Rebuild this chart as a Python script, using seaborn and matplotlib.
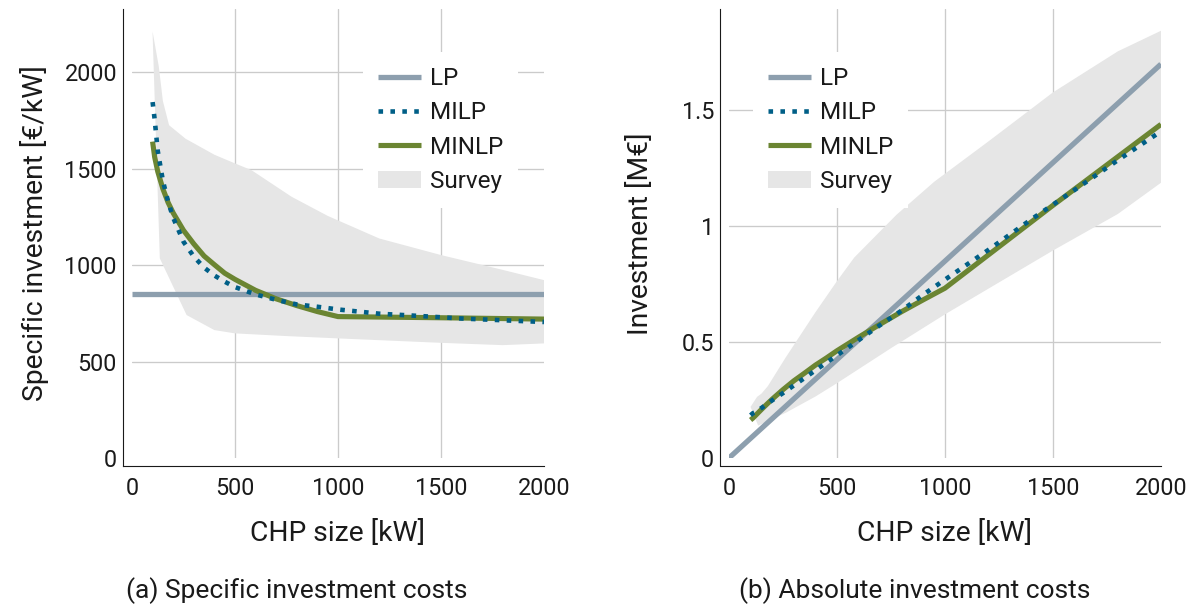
import matplotlib
matplotlib.use("Agg")
import matplotlib.pyplot as plt
import seaborn as sns
from matplotlib.lines import Line2D
from matplotlib.patches import Patch
from matplotlib.ticker import FuncFormatter

# ---- data: CHP size [kW] and specific investment [€/kW] ----
lp_size = [0, 2000]
lp_specific = [850, 850]

milp_size = [100, 110, 125, 150, 175, 200, 250, 300, 350, 400, 450, 500,
             600, 700, 800, 900, 1000, 1200, 1400, 1600, 1800, 2000]
milp_specific = [1845, 1755, 1592, 1437, 1330, 1245, 1121, 1044, 987, 946, 914, 886,
                 848, 820, 796, 784, 770, 748, 736, 723, 714, 705]

minlp_size = [100, 110, 125, 150, 175, 200, 250, 300, 350, 400, 450, 500,
              600, 700, 800, 900, 1000, 1500, 2000]
minlp_specific = [1640, 1560, 1485, 1395, 1325, 1270, 1180, 1110, 1047, 1002, 958, 926,
                  869, 825, 790, 759, 733, 727, 720]

survey_high_size = [100, 130, 150, 180, 260, 400, 500, 580, 775, 950, 1200, 1500, 1800, 2000]
survey_high = [2210, 2030, 1850, 1725, 1655, 1572, 1527, 1492, 1354, 1255, 1138, 1052, 975, 922]
survey_low_size = [100, 135, 265, 400, 500, 750, 1000, 1500, 1800, 2000]
survey_low = [2200, 1035, 741, 663, 646, 632, 620, 597, 585, 594]

x_ticks = [0, 500, 1000, 1500, 2000]
spec_ticks = [0, 500, 1000, 1500, 2000]
abs_ticks = [0, 0.5, 1, 1.5]

legend_labels = ["LP", "MILP", "MINLP", "Survey"]

# ---- style ----
C_LP = "#8d9fae"
C_MILP = "#005f87"
C_MINLP = "#6b8532"
C_SURVEY = "#e6e6e6"
C_GRID = "#cbcbcb"
C_TEXT = "#1a1a1a"

sns.set_theme(style="white")
plt.rcParams["font.family"] = ["Roboto", "DejaVu Sans"]
plt.rcParams["text.color"] = C_TEXT
plt.rcParams["axes.labelcolor"] = C_TEXT
plt.rcParams["xtick.color"] = C_TEXT
plt.rcParams["ytick.color"] = C_TEXT

W, H = 1192, 606
fig = plt.figure(figsize=(W / 100, H / 100), dpi=100)
fig.patch.set_facecolor("white")

ax1 = fig.add_axes([132 / W, 148 / H, 412 / W, 449.5 / H])
ax2 = fig.add_axes([729 / W, 148 / H, 432 / W, 449.5 / H])

LW_LP, LW_MINLP, LW_MILP = 3.8, 3.7, 3.3
DOTS = (0, (1, 1.6))


def to_abs(size, spec):
    return [s * v / 1e6 for s, v in zip(size, spec)]


def draw(ax, absolute):
    conv = to_abs if absolute else (lambda s, v: list(v))
    hi = conv(survey_high_size, survey_high)
    lo = conv(survey_low_size, survey_low)
    ax.fill(list(survey_high_size) + survey_low_size[::-1], hi + lo[::-1],
            color=C_SURVEY, lw=0, zorder=1)
    sns.lineplot(x=lp_size, y=conv(lp_size, lp_specific), ax=ax, color=C_LP,
                 lw=LW_LP, solid_capstyle="butt", zorder=3)
    sns.lineplot(x=minlp_size, y=conv(minlp_size, minlp_specific), ax=ax,
                 color=C_MINLP, lw=LW_MINLP, solid_capstyle="butt", zorder=4)
    sns.lineplot(x=milp_size, y=conv(milp_size, milp_specific), ax=ax,
                 color=C_MILP, lw=LW_MILP, linestyle=DOTS,
                 dash_capstyle="butt", zorder=5)


def style(ax, yticks, ytop, fmt, xoff_units, yoff_units):
    ax.set_xlim(0, 2000)
    ax.set_ylim(0, ytop)
    ax.set_xticks(x_ticks)
    ax.set_yticks(yticks)
    ax.yaxis.set_major_formatter(FuncFormatter(fmt))
    ax.set_facecolor("white")
    ax.grid(False)
    # grid only on the interior ticks
    for x in x_ticks[1:-1]:
        ax.axvline(x, color=C_GRID, lw=0.95, zorder=0.5)
    for y in yticks[1:]:
        ax.axhline(y, color=C_GRID, lw=0.95, zorder=0.5)
    for side in ("top", "right"):
        ax.spines[side].set_visible(False)
    ax.spines["left"].set_position(("outward", 6.3))
    ax.spines["bottom"].set_position(("outward", 5.6))
    ax.spines["left"].set_bounds(-yoff_units, ytop)
    ax.spines["bottom"].set_bounds(-xoff_units, 2000)
    for side in ("left", "bottom"):
        ax.spines[side].set_color(C_TEXT)
        ax.spines[side].set_linewidth(0.8)
    ax.tick_params(axis="both", length=0, labelsize=16.8)
    ax.tick_params(axis="x", pad=8)
    ax.tick_params(axis="y", pad=4.5)


draw(ax1, False)
draw(ax2, True)

style(ax1, spec_ticks, 2330, lambda v, p: f"{v:.0f}", 43, 40)
style(ax2, abs_ticks, 1.94, lambda v, p: f"{v:g}", 38.5, 0.0332)

LABEL_FS = 20.3
ax1.set_xlabel("CHP size [kW]", fontsize=LABEL_FS, va="baseline")
ax2.set_xlabel("CHP size [kW]", fontsize=LABEL_FS, va="baseline")
ax1.xaxis.set_label_coords(0.5, (458 - 541) / 449.5)
ax2.xaxis.set_label_coords(0.5, (458 - 541) / 449.5)

ax1.set_ylabel("Specific investment [€/kW]", fontsize=LABEL_FS, va="center")
ax2.set_ylabel("Investment [M€]", fontsize=LABEL_FS, va="center")
ax1.yaxis.set_label_coords((35 - 132) / 412, 0.5)
ax2.yaxis.set_label_coords((641 - 729) / 432, 0.5)

handles = [
    Line2D([], [], color=C_LP, lw=LW_LP, solid_capstyle="butt"),
    Line2D([], [], color=C_MILP, lw=LW_MILP, linestyle=DOTS, dash_capstyle="butt"),
    Line2D([], [], color=C_MINLP, lw=LW_MINLP, solid_capstyle="butt"),
    Patch(facecolor=C_SURVEY, edgecolor="none"),
]


def add_legend(ax, left_px, top_px, ax_left_px, ax_w):
    ax.legend(handles, legend_labels, loc="upper left",
              bbox_to_anchor=((left_px - ax_left_px) / ax_w, (458 - top_px) / 449.5),
              borderaxespad=0, borderpad=0.62, fontsize=17.5, frameon=True,
              framealpha=1, facecolor="white", edgecolor="none", fancybox=False,
              handlelength=1.75, handletextpad=0.38, labelspacing=0.47)


add_legend(ax1, 363, 52, 132, 412)
add_legend(ax2, 753, 52, 729, 432)

CAP_FS = 19
fig.text(297 / W, 1 - 598 / H, "(a) Specific investment costs", fontsize=CAP_FS,
         ha="center", va="baseline")
fig.text(915 / W, 1 - 598 / H, "(b) Absolute investment costs", fontsize=CAP_FS,
         ha="center", va="baseline")

fig.savefig("out.png", dpi=100, facecolor="white")
